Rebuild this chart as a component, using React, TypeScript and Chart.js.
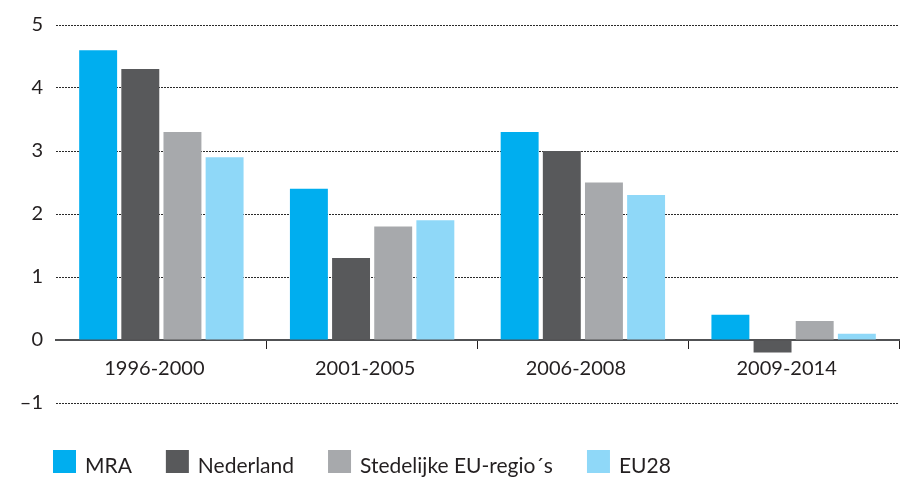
import React, { useEffect, useRef } from "react";
import { Chart, registerables } from "chart.js";

Chart.register(...registerables);

const categories = ["1996-2000", "2001-2005", "2006-2008", "2009-2014"];
const seriesNames = ["MRA", "Nederland", "Stedelijke EU-regio´s", "EU28"];
const mra = [4.6, 2.4, 3.3, 0.4];
const nederland = [4.3, 1.3, 3.0, -0.2];
const stedelijke = [3.3, 1.8, 2.5, 0.3];
const eu28 = [2.9, 1.9, 2.3, 0.1];
const seriesColors = ["#00AEEF", "#58595B", "#A7A9AC", "#8FD8F8"];
const yMin = -1;
const yMax = 5;

const FONT = "Lato, 'Liberation Sans', sans-serif";
const AXIS_FONT_SIZE = 20;
const LEGEND_FONT_SIZE = 21;
const TEXT = "#231F20";

const legendPlugin = {
  id: "customLegend",
  afterDraw(chart: any) {
    const ctx = chart.ctx;
    ctx.save();
    ctx.font = `${LEGEND_FONT_SIZE}px ${FONT}`;
    ctx.textAlign = "left";
    ctx.textBaseline = "alphabetic";
    let x = 53;
    const boxTop = 450;
    const box = 23;
    chart.data.datasets.forEach((ds: any) => {
      ctx.fillStyle = ds.backgroundColor;
      ctx.fillRect(x, boxTop, box, box);
      ctx.fillStyle = TEXT;
      ctx.fillText(ds.label, x + box + 9, boxTop + box);
      x += box + 9 + ctx.measureText(ds.label).width + 34;
    });
    ctx.restore();
  },
};

export default function App() {
  const ref = useRef<HTMLCanvasElement>(null);
  useEffect(() => {
    if (!ref.current) return;
    const values = [mra, nederland, stedelijke, eu28];
    const chart = new Chart(ref.current, {
      type: "bar",
      data: {
        labels: categories,
        datasets: seriesNames.map((name, i) => ({
          label: name,
          data: values[i],
          backgroundColor: seriesColors[i],
          borderWidth: 0,
          categoryPercentage: 0.8,
          barPercentage: 0.9,
        })),
      },
      options: {
        animation: false,
        responsive: false,
        layout: { padding: { top: 24, bottom: 75, left: 0, right: 9 } },
        plugins: {
          legend: { display: false },
          tooltip: { enabled: false },
        },
        scales: {
          x: {
            type: "category",
            position: { y: 0 } as any,
            z: 1,
            offset: true,
            grid: {
              offset: true,
              drawOnChartArea: false,
              drawTicks: true,
              tickLength: 8,
              tickWidth: 1,
              tickColor: (c: any) =>
                c.index === 0 || c.index === categories.length ? "rgba(0,0,0,0)" : TEXT,
            },
            border: { display: true, color: "#505153", width: 2 },
            ticks: {
              color: TEXT,
              font: { family: FONT, size: AXIS_FONT_SIZE },
              padding: 9,
              labelOffset: -7,
              maxRotation: 0,
            },
          },
          y: {
            min: yMin,
            max: yMax,
            afterFit: (s: any) => {
              s.width = 56;
            },
            grid: {
              drawTicks: false,
              lineWidth: 1,
              color: (c: any) => (c.tick && c.tick.value === 0 ? "rgba(0,0,0,0)" : "#2a2a2a"),
            },
            border: { display: false, dash: [2, 1] },
            ticks: {
              stepSize: 1,
              padding: 13,
              color: TEXT,
              font: { family: FONT, size: AXIS_FONT_SIZE },
              callback: (v: any) => (Number(v) < 0 ? "\u2013" + Math.abs(Number(v)) : String(v)),
            },
          } as any,
        },
      },
      plugins: [legendPlugin],
    });
    return () => chart.destroy();
  }, []);
  return (
    <canvas
      ref={ref}
      width={908}
      height={478}
      style={{ position: "absolute", left: 0, top: 0, width: 908, height: 478 }}
    />
  );
}
